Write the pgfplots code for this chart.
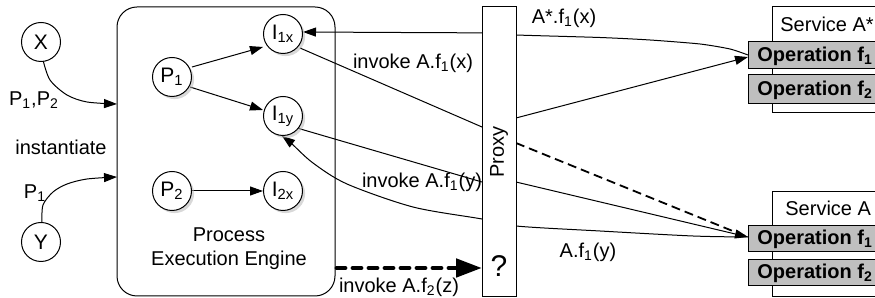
\documentclass[border=0pt]{standalone}
\usepackage{fontspec}
\setmainfont{Liberation Sans}
\usepackage{pgfplots}
\pgfplotsset{compat=1.18}
\usetikzlibrary{arrows.meta,shadows}
\tikzset{
  tip/.style={-{Triangle[length=6.5pt,width=4.5pt]}},
  lbl/.style={inner sep=0pt, font=\fontsize{10}{12}\selectfont},
  circ/.style={circle, draw, fill=white, line width=0.5pt, minimum size=19.5pt, inner sep=0pt, font=\fontsize{10.5}{12}\selectfont},
  sh/.style={drop shadow={shadow xshift=1.3pt, shadow yshift=-1.3pt, fill=black!30}},
}
\begin{document}
\begin{tikzpicture}
\useasboundingbox (0,0) rectangle (437.5pt,149pt);
\clip (0,0) rectangle (437.5pt,149pt);
\begin{axis}[at={(0,0)}, anchor=south west, scale only axis,
  width=437.5pt, height=149pt, xmin=0, xmax=875, ymin=0, ymax=298,
  y dir=reverse, hide axis, clip=false,
  every axis plot/.append style={black, line width=0.5pt, no markers},
]
% instantiate arrows
\addplot[tip, smooth] coordinates {(43,60) (50,80) (67,95) (87,102) (117,104)};
\addplot[tip, smooth] coordinates {(42,222) (43,205) (53,192) (67,184) (87,179) (117,177)};
% engine
\draw[line width=0.5pt, rounded corners=10pt] (117,7) rectangle (335,296);
% inner arrows
\addplot[tip] coordinates {(192,67) (263,47)};
\addplot[tip] coordinates {(190,87) (263,110)};
\addplot[tip] coordinates {(192,191) (263,191)};
% A*.f1(x) curve to I1x
\addplot[tip, smooth, tension=0.4] coordinates {(748,55) (730,49) (700,44) (650,40) (600,37.5) (516,35) (482,33) (400,32.5) (303,32)};
% I1x -> proxy -> A* op f1
\addplot[tip] coordinates {(300,48) (482,127) (516,118) (748,57)};
% I1y -> proxy -> A op f1
\addplot[tip] coordinates {(297,128) (482,182) (516,182) (748,237)};
% dashed proxy -> A op f1
\addplot[line width=0.9pt, dash pattern=on 4.5pt off 2.5pt] coordinates {(516,143) (745,236)};
% A.f1(y) curve back to I1y
\addplot[tip, smooth, tension=0.5] coordinates {(748,237) (693,236) (600,231) (516,226) (482,219) (413,207) (347,184) (313,163) (292,144) (282,136)};
% thick dashed
\addplot[line width=2.4pt, dash pattern=on 4pt off 4pt, line cap=round, -{Triangle[length=13pt,width=9pt]}] coordinates {(337,268) (482,268)};
% proxy
\draw[line width=0.5pt, fill=white] (482,7) rectangle (516,297);
\node[lbl, rotate=90] at (499,152) {Proxy};
\node[inner sep=0pt, font=\fontsize{15}{16}\selectfont] at (499,266) {?};
% circles
\node[circ] at (41,42) {X};
\node[circ] at (41,242) {Y};
\node[circ, sh] at (172,77) {P\textsubscript{1}};
\node[circ, sh] at (172,191) {P\textsubscript{2}};
\node[circ, sh] at (283,34) {I\textsubscript{1x}};
\node[circ, sh] at (283,116) {I\textsubscript{1y}};
\node[circ, sh] at (283,191) {I\textsubscript{2x}};
% labels
\node[lbl] at (34,100) {P\textsubscript{1},P\textsubscript{2}};
\node[lbl] at (61,147) {instantiate};
\node[lbl] at (35,193) {P\textsubscript{1}};
\node[lbl, align=center] at (229,249) {Process\\Execution Engine};
\node[lbl] at (413,63) {invoke A.f\textsubscript{1}(x)};
\node[lbl] at (422,182) {invoke A.f\textsubscript{1}(y)};
\node[lbl] at (399,287) {invoke A.f\textsubscript{2}(z)};
\node[lbl] at (564,18) {A*.f\textsubscript{1}(x)};
\node[lbl] at (588,252) {A.f\textsubscript{1}(y)};
% services
\draw[line width=0.5pt, fill=white] (772,7) rectangle (920,113);
\node[lbl, anchor=west] at (780,24) {Service A*};
\draw[line width=0.5pt, fill=black!25] (748,42) rectangle (920,69);
\draw[line width=0.5pt, fill=black!25] (748,75) rectangle (920,104);
\node[lbl, anchor=west, font=\fontsize{10}{12}\selectfont\bfseries] at (757,56) {Operation f\textsubscript{1}};
\node[lbl, anchor=west, font=\fontsize{10}{12}\selectfont\bfseries] at (757,90) {Operation f\textsubscript{2}};
\draw[line width=0.5pt, fill=white] (772,192) rectangle (920,297);
\node[lbl, anchor=west] at (785,208) {Service A};
\draw[line width=0.5pt, fill=black!25] (748,226) rectangle (920,252);
\draw[line width=0.5pt, fill=black!25] (748,260) rectangle (920,286);
\node[lbl, anchor=west, font=\fontsize{10}{12}\selectfont\bfseries] at (757,239) {Operation f\textsubscript{1}};
\node[lbl, anchor=west, font=\fontsize{10}{12}\selectfont\bfseries] at (757,273) {Operation f\textsubscript{2}};
\end{axis}
\end{tikzpicture}
\end{document}
